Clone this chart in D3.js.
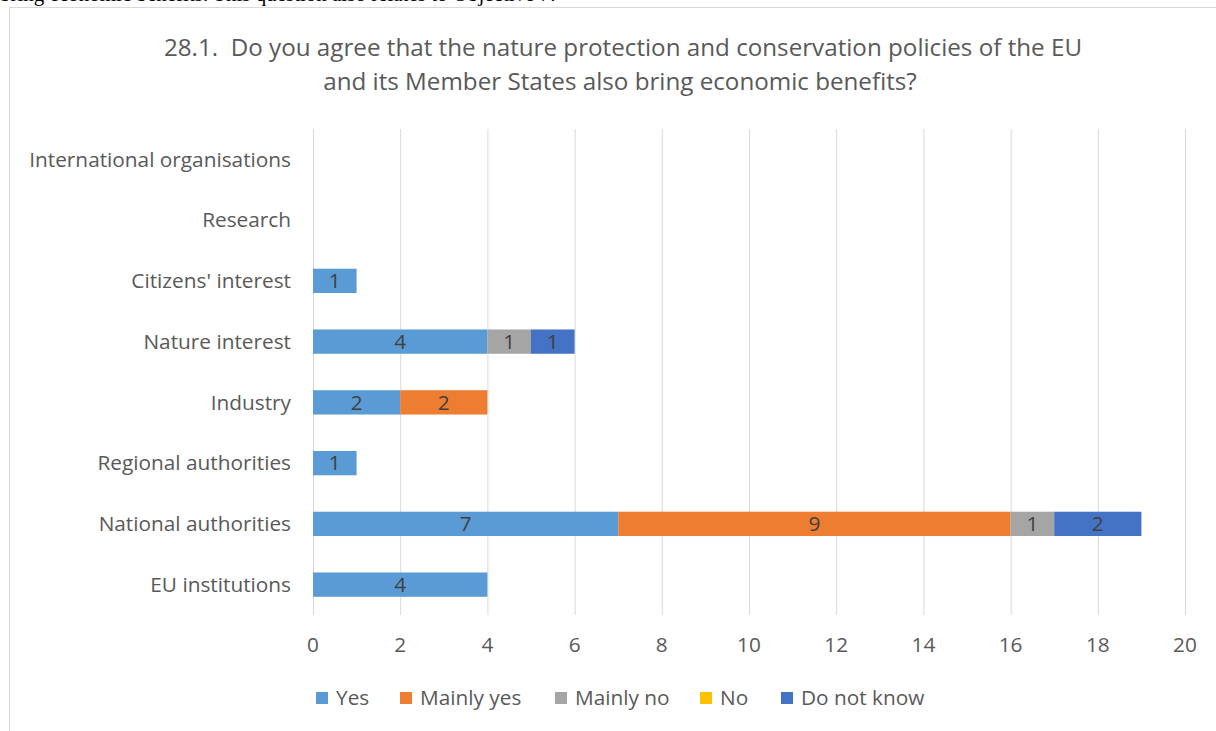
<!DOCTYPE html>
<html>
<head>
<meta charset="utf-8">
<script src="https://cdn.jsdelivr.net/npm/d3@7"></script>
<style>
  body { margin: 0; background: #fff; }
  svg { display: block; }
</style>
</head>
<body>
<svg id="chart"></svg>
<script>
// categories, bottom to top as in the picture
const categories = ['EU institutions', 'National authorities', 'Regional authorities', 'Industry',
  'Nature interest', "Citizens' interest", 'Research', 'International organisations'];
const seriesNames = ['Yes', 'Mainly yes', 'Mainly no', 'No', 'Do not know'];
const yes        = [4, 7, 1, 2, 4, 1, 0, 0];
const mainlyYes  = [0, 9, 0, 2, 0, 0, 0, 0];
const mainlyNo   = [0, 1, 0, 0, 1, 0, 0, 0];
const no         = [0, 0, 0, 0, 0, 0, 0, 0];
const doNotKnow  = [0, 2, 0, 0, 1, 0, 0, 0];
const xTicks = [0, 2, 4, 6, 8, 10, 12, 14, 16, 18, 20];
const colors = ['#5B9BD5', '#ED7D31', '#A5A5A5', '#FFC000', '#4472C4'];

const width = 1216, height = 731;
const font = '"Open Sans", sans-serif';
const fs = 20.8;

const svg = d3.select('#chart').attr('width', width).attr('height', height);

// cut-off line of the document text above the chart
svg.append('text')
  .attr('x', 0).attr('y', 0.5)
  .attr('font-family', '"Liberation Serif", serif')
  .attr('font-size', 21)
  .attr('fill', '#000')
  .text('bring economic benefits. This question also relates to Objective 7.');

// chart frame
svg.append('rect')
  .attr('x', 9.5).attr('y', 7.5)
  .attr('width', width + 10).attr('height', height + 10)
  .attr('fill', '#fff')
  .attr('stroke', '#d9d9d9');

// title
const title = svg.append('text')
  .attr('text-anchor', 'middle')
  .attr('font-family', font)
  .attr('font-size', 24.2)
  .attr('fill', '#595959')
  .style('white-space', 'pre');
title.append('tspan').attr('x', 623).attr('y', 56)
  .text('28.1.  Do you agree that the nature protection and conservation policies of the EU');
title.append('tspan').attr('x', 620).attr('y', 90)
  .text('and its Member States also bring economic benefits?');

const x = d3.scaleLinear().domain([0, 20]).range([313, 1185]);
const y = d3.scaleBand().domain(categories).range([615, 129]).paddingInner(0.6).paddingOuter(0.3);

// gridlines
svg.append('g')
  .selectAll('line')
  .data(xTicks)
  .join('line')
  .attr('x1', d => x(d) + 0.5).attr('x2', d => x(d) + 0.5)
  .attr('y1', 129).attr('y2', 615)
  .attr('stroke', '#d9d9d9')
  .attr('stroke-width', 1);

// x tick labels
svg.append('g')
  .selectAll('text')
  .data(xTicks)
  .join('text')
  .attr('x', d => x(d))
  .attr('y', 645)
  .attr('dy', '0.35em')
  .attr('text-anchor', 'middle')
  .attr('font-family', font)
  .attr('font-size', fs)
  .attr('fill', '#595959')
  .text(d => d);

// category labels
svg.append('g')
  .selectAll('text')
  .data(categories)
  .join('text')
  .attr('x', 291)
  .attr('y', d => y(d) + y.bandwidth() / 2)
  .attr('dy', '0.35em')
  .attr('text-anchor', 'end')
  .attr('font-family', font)
  .attr('font-size', fs)
  .attr('fill', '#595959')
  .text(d => d);

// stacked bars
const table = categories.map((c, i) => ({
  category: c,
  'Yes': yes[i], 'Mainly yes': mainlyYes[i], 'Mainly no': mainlyNo[i],
  'No': no[i], 'Do not know': doNotKnow[i]
}));
const stacked = d3.stack().keys(seriesNames)(table);

const groups = svg.append('g')
  .selectAll('g')
  .data(stacked)
  .join('g')
  .attr('fill', (d, i) => colors[i]);

groups.selectAll('rect')
  .data(d => d.filter(s => s[1] - s[0] > 0))
  .join('rect')
  .attr('x', d => x(d[0]))
  .attr('y', d => y(d.data.category))
  .attr('width', d => x(d[1]) - x(d[0]))
  .attr('height', y.bandwidth());

groups.selectAll('text')
  .data(d => d.filter(s => s[1] - s[0] > 0))
  .join('text')
  .attr('x', d => (x(d[0]) + x(d[1])) / 2)
  .attr('y', d => y(d.data.category) + y.bandwidth() / 2)
  .attr('dy', '0.35em')
  .attr('text-anchor', 'middle')
  .attr('font-family', font)
  .attr('font-size', fs)
  .attr('fill', '#404040')
  .text(d => d[1] - d[0]);

// legend
const legendX = [316, 400, 555, 700, 781];
const legend = svg.append('g')
  .selectAll('g')
  .data(seriesNames)
  .join('g')
  .attr('transform', (d, i) => `translate(${legendX[i]},698)`);
legend.append('rect')
  .attr('x', 0).attr('y', -6)
  .attr('width', 12).attr('height', 12)
  .attr('fill', (d, i) => colors[i]);
legend.append('text')
  .attr('x', 20).attr('y', 0)
  .attr('dy', '0.35em')
  .attr('font-family', font)
  .attr('font-size', fs)
  .attr('fill', '#595959')
  .text(d => d);
</script>
</body>
</html>
